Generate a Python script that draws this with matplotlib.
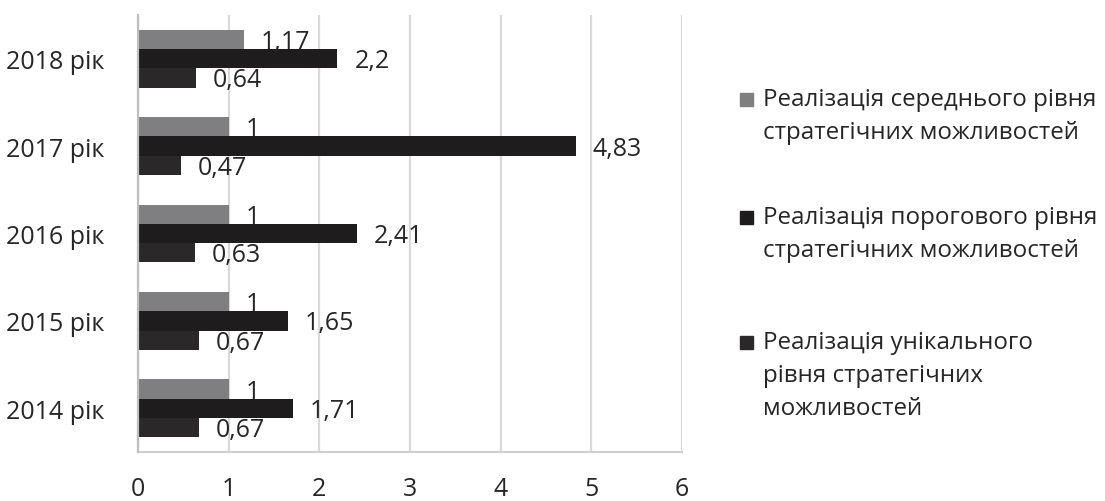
import numpy as np
import matplotlib
matplotlib.use('Agg')
import matplotlib.pyplot as plt
from matplotlib.patches import Rectangle

plt.rcParams['font.family'] = ['Open Sans', 'DejaVu Sans']

years = ['2014 рік', '2015 рік', '2016 рік', '2017 рік', '2018 рік']
middle = [1, 1, 1, 1, 1.17]          # середній рівень
threshold = [1.71, 1.65, 2.41, 4.83, 2.2]  # пороговий рівень
unique = [0.67, 0.67, 0.63, 0.47, 0.64]    # унікальний рівень

series = [
    (middle, '#7f7f81', 'Реалізація середнього рівня\nстратегічних можливостей'),
    (threshold, '#1e1c1d', 'Реалізація порогового рівня\nстратегічних можливостей'),
    (unique, '#2a2829', 'Реалізація унікального\nрівня стратегічних\nможливостей'),
]

W, H = 1105, 502
fig = plt.figure(figsize=(W / 100, H / 100), dpi=100)
ax = fig.add_axes([138 / W, 49 / H, 544 / W, 437 / H])

fs = 18
txt_col = '#262626'
bh = 0.22
y = np.arange(len(years))
offsets = [bh, 0, -bh]
for (vals, col, lab), off in zip(series, offsets):
    ax.barh(y + off, vals, height=bh, color=col, zorder=2)
    for yi, v in zip(y, vals):
        txt = ('%g' % v).replace('.', ',')
        ax.annotate(txt, (v, yi + off), xytext=(17, -2), textcoords='offset pixels',
                    ha='left', va='center', fontsize=fs, color=txt_col, zorder=3)

ax.set_xlim(0, 6)
ax.set_ylim(-0.5, len(years) - 0.5)
ax.set_xticks(range(7))
ax.set_yticks(y)
ax.set_yticklabels(years)
ax.tick_params(axis='both', length=0, labelsize=fs, colors=txt_col)
ax.tick_params(axis='x', pad=17)
ax.tick_params(axis='y', pad=24)
ax.grid(axis='x', color='#d9d9d9', linewidth=1.6, zorder=0)
for s in ['top', 'right']:
    ax.spines[s].set_visible(False)
ax.spines['left'].set_color('#bfbfbf')
ax.spines['left'].set_linewidth(1.6)
ax.spines['left'].set_zorder(4)
ax.spines['bottom'].set_color('#d0d0d0')
ax.spines['bottom'].set_linewidth(1.6)

# legend, drawn by hand so the marker sits on the first line
entry_tops = [100, 218, 343]
line_step = 33
for (vals, col, lab), ty in zip(series, entry_tops):
    fig.add_artist(Rectangle(((740) / W, 1 - (ty + 7) / H), 13 / W, 13 / H,
                             transform=fig.transFigure, color=col))
    for i, line in enumerate(lab.split('\n')):
        fig.text(763 / W, 1 - (ty + i * line_step) / H, line, ha='left',
                 va='center', fontsize=17.4, color=txt_col)

fig.savefig('out.png', dpi=100)
